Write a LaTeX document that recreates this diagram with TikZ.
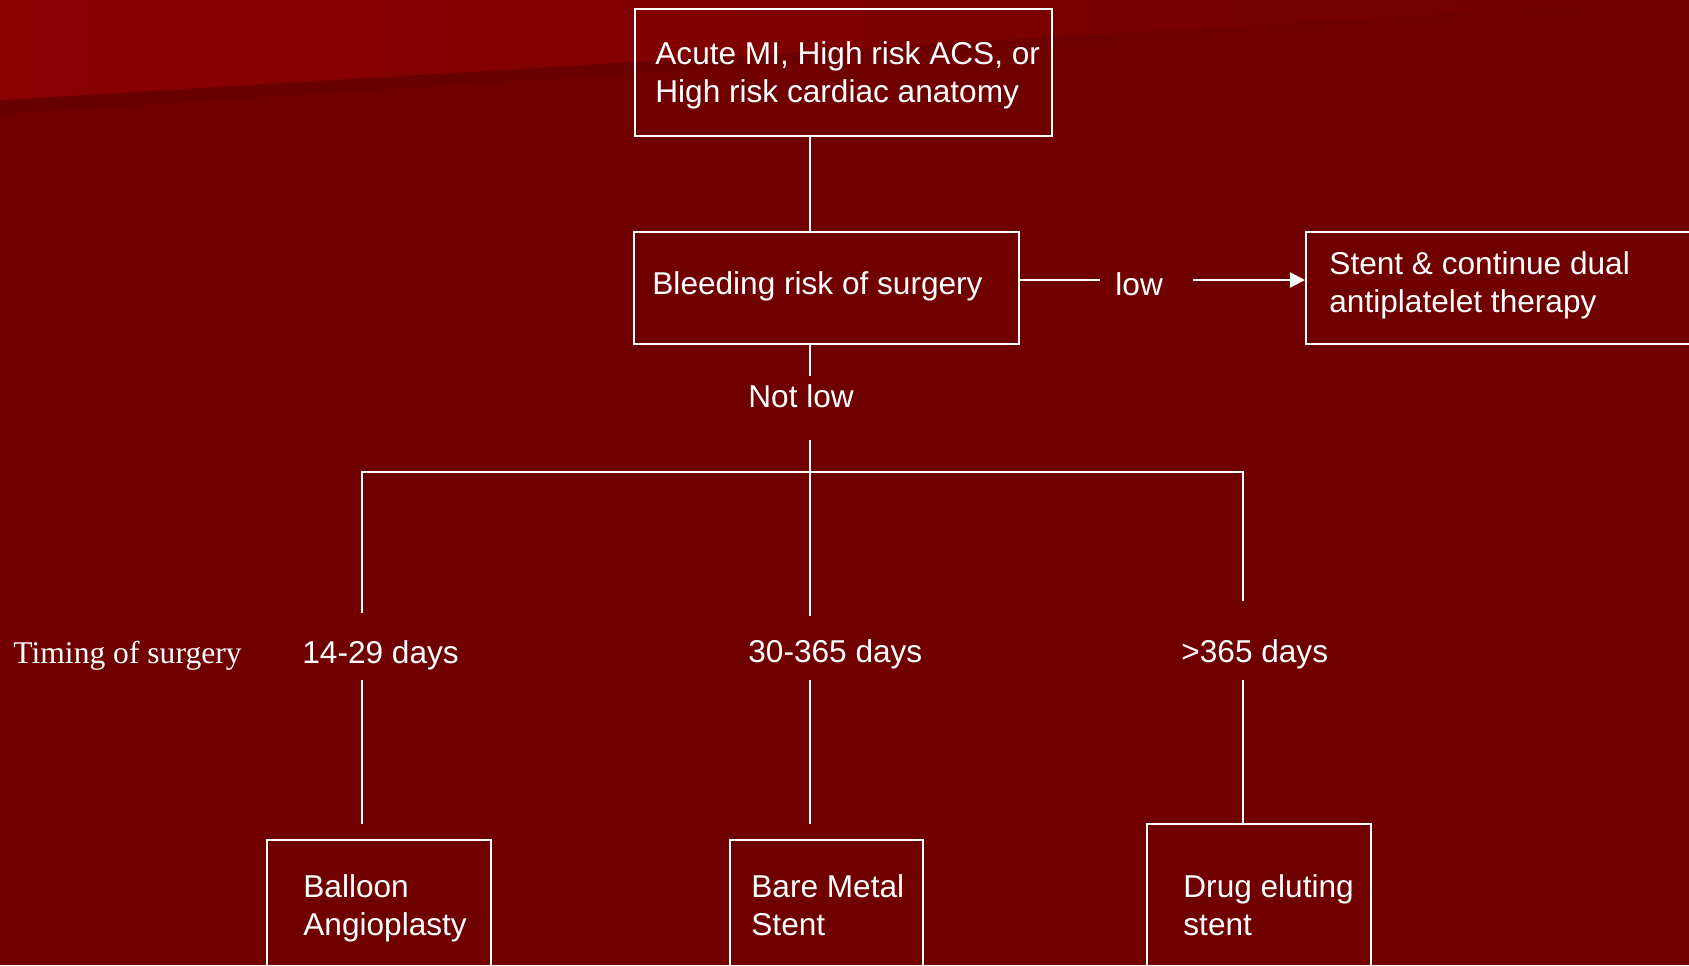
\documentclass[tikz,border=0pt]{standalone}
\usepackage{fontspec}
\setmainfont{Liberation Sans}
\newfontfamily\serifface{Liberation Serif}
\usetikzlibrary{arrows.meta,fit}
\definecolor{slidebg}{RGB}{112,0,0}
\definecolor{bandlight}{RGB}{140,0,0}
\definecolor{banddark}{RGB}{103,0,0}
\begin{document}
\begin{tikzpicture}[x=0.5pt,y=-0.5pt,
  box/.style={draw=white, line width=1pt, inner sep=0pt},
  txt/.style={text=white, font=\fontsize{15.8}{19}\selectfont, inner sep=0pt, anchor=base west, align=left},
  link/.style={draw=white, line width=1pt},
  arrowlink/.style={link, -{Triangle[length=7.5pt,width=7.5pt]}}]
\useasboundingbox (0,0) rectangle (1689,965);
\clip (0,0) rectangle (1689,965);

% slide background with the lighter diagonal band at the top
\fill[slidebg] (0,0) rectangle (1689,965);
\shade[left color=banddark, right color=slidebg] (0,100) -- (1667,0) -- (1689,0) -- (1689,6) -- (0,114) -- cycle;
\shade[left color=bandlight, right color=slidebg] (0,0) -- (1667,0) -- (0,100) -- cycle;

% boxes
\node[box, fit={(635,9) (1052,136)}] (acute) {};
\node[box, fit={(634,232) (1019,344)}] (bleed) {};
\node[box, fit={(1306,232) (1700,344)}] (stent) {};
\node[box, fit={(267,840) (491,990)}] (balloon) {};
\node[box, fit={(730,840) (923,990)}] (bare) {};
\node[box, fit={(1147,824) (1371,990)}] (drug) {};

% texts (two-line texts are placed by the baseline of their last line)
\node[txt] (acutetxt) at (655,102) {Acute MI, High risk ACS, or\\High risk cardiac anatomy};
\node[txt] (bleedtxt) at (652,294) {Bleeding risk of surgery};
\node[txt] (low) at (1115,295) {low};
\node[txt] (stenttxt) at (1329,312) {Stent \& continue dual\\antiplatelet therapy};
\node[txt] (notlow) at (748,407) {Not low};
\node[txt, font=\serifface\fontsize{15.8}{19}\selectfont] (timing) at (13,663) {Timing of surgery};
\node[txt] (t1) at (302,663) {14-29 days};
\node[txt] (t2) at (748,662) {30-365 days};
\node[txt] (t3) at (1181,662) {>365 days};
\node[txt] (balloontxt) at (303,935) {Balloon\\Angioplasty};
\node[txt] (baretxt) at (751,935) {Bare Metal\\Stent};
\node[txt] (drugtxt) at (1183,935) {Drug eluting\\stent};

% reference positions of the connector lines
\coordinate (xl) at (362,0);
\coordinate (xc) at (810,0);
\coordinate (xr) at (1243,0);
\coordinate (lowy) at (0,280);
\coordinate (lowa) at (1100,280);
\coordinate (lowb) at (1193,280);
\coordinate (nlend) at (810,376);
\coordinate (nlstart) at (810,440);
\coordinate (barl) at (362,472);
\coordinate (barr) at (1243,472);
\coordinate (legl) at (362,613);
\coordinate (legc) at (810,616);
\coordinate (legr) at (1243,601);
\coordinate (ul) at (362,680);
\coordinate (uc) at (810,680);
\coordinate (ur) at (1243,680);
\coordinate (dl) at (362,824);
\coordinate (dc) at (810,824);

% connectors
\draw[link] (acute.south -| xc) -- (bleed.north -| xc);
\draw[link] (bleed.east |- lowy) -- (lowa);
\draw[arrowlink] (lowb) -- (stent.west |- lowy);
\draw[link] (bleed.south -| xc) -- (nlend);
\draw[link] (nlstart) -- (legc);
\draw[link] (legl) -- (barl) -- (barr) -- (legr);
\draw[link] (ul) -- (dl);
\draw[link] (uc) -- (dc);
\draw[link] (ur) -- (drug.north -| xr);
\end{tikzpicture}
\end{document}
